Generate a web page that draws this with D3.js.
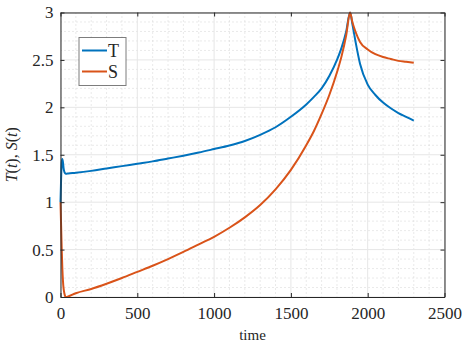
<!DOCTYPE html>
<html>
<head>
<meta charset="utf-8">
<script src="https://cdn.jsdelivr.net/npm/d3@7"></script>
<style>
  body { margin: 0; background: #fff; }
  text { font-family: "Liberation Serif", "DejaVu Serif", serif; fill: #262626; }
</style>
</head>
<body>
<div id="chart"></div>
<script>
// values
var time = [0, 4, 8, 12, 16, 20, 25, 30, 35, 40, 50, 100, 200, 300, 400, 500, 600, 700, 800, 900,
            1000, 1100, 1200, 1300, 1400, 1500, 1600, 1650, 1700, 1750, 1800, 1830, 1860, 1885,
            1900, 1920, 1950, 2000, 2050, 2100, 2150, 2200, 2250, 2300];
var seriesT = [1.0, 1.25, 1.42, 1.455, 1.42, 1.36, 1.32, 1.305, 1.30, 1.30, 1.302, 1.31, 1.33, 1.355, 1.38, 1.405, 1.43, 1.46, 1.49, 1.523,
               1.56, 1.598, 1.645, 1.71, 1.79, 1.9, 2.03, 2.11, 2.2, 2.33, 2.5, 2.63, 2.8, 3.0,
               2.88, 2.7, 2.46, 2.24, 2.13, 2.05, 1.99, 1.94, 1.9, 1.86];
var seriesS = [1.0, 0.75, 0.5, 0.3, 0.17, 0.09, 0.04, 0.01, 0.0, 0.0, 0.005, 0.04, 0.085, 0.14, 0.2, 0.265, 0.33, 0.40, 0.475, 0.555,
               0.635, 0.73, 0.84, 0.97, 1.135, 1.34, 1.6, 1.75, 1.93, 2.13, 2.37, 2.54, 2.76, 3.0,
               2.9, 2.8, 2.69, 2.61, 2.56, 2.53, 2.51, 2.49, 2.48, 2.47];
var seriesNames = ["T", "S"];
var xTicks = [0, 500, 1000, 1500, 2000, 2500];
var yTicks = [0, 0.5, 1, 1.5, 2, 2.5, 3];

var margin = {top: 12.5, right: 23.5, bottom: 51, left: 60.5},
    width = 468 - margin.left - margin.right,
    height = 348 - margin.top - margin.bottom;

var x = d3.scaleLinear().domain([0, 2500]).range([0, width]);
var y = d3.scaleLinear().domain([0, 3]).range([height, 0]);
var color = ["#0072BD", "#D95319"];

var svg = d3.select("#chart").append("svg")
    .attr("width", 468)
    .attr("height", 348)
    .append("g")
    .attr("transform", "translate(" + margin.left + "," + margin.top + ")");

// minor grid (dotted)
var xMinor = d3.range(0, 2501, 100).filter(function(d) { return d % 500 !== 0; });
var yMinor = d3.range(0, 31, 1).map(function(d) { return d / 10; }).filter(function(d) { return Math.round(d * 10) % 5 !== 0; });

svg.append("g").selectAll("line").data(xMinor).enter().append("line")
    .attr("x1", function(d) { return x(d); }).attr("x2", function(d) { return x(d); })
    .attr("y1", 0).attr("y2", height)
    .attr("stroke", "#d4d4d4").attr("stroke-width", 1).attr("stroke-dasharray", "1,3");
svg.append("g").selectAll("line").data(yMinor).enter().append("line")
    .attr("y1", function(d) { return y(d); }).attr("y2", function(d) { return y(d); })
    .attr("x1", 0).attr("x2", width)
    .attr("stroke", "#d4d4d4").attr("stroke-width", 1).attr("stroke-dasharray", "1,3");

// major grid
svg.append("g").selectAll("line").data(xTicks).enter().append("line")
    .attr("x1", function(d) { return x(d); }).attr("x2", function(d) { return x(d); })
    .attr("y1", 0).attr("y2", height)
    .attr("stroke", "#e6e6e6").attr("stroke-width", 1);
svg.append("g").selectAll("line").data(yTicks).enter().append("line")
    .attr("y1", function(d) { return y(d); }).attr("y2", function(d) { return y(d); })
    .attr("x1", 0).attr("x2", width)
    .attr("stroke", "#e6e6e6").attr("stroke-width", 1);

// lines
var data = seriesNames.map(function(name, k) {
    var vals = k === 0 ? seriesT : seriesS;
    return time.map(function(t, i) { return {t: t, v: vals[i]}; });
});

var line = d3.line()
    .curve(d3.curveMonotoneX)
    .x(function(d) { return x(d.t); })
    .y(function(d) { return y(d.v); });

svg.selectAll(".series").data(data).enter().append("path")
    .attr("class", "series")
    .attr("d", line)
    .attr("fill", "none")
    .attr("stroke", function(d, i) { return color[i]; })
    .attr("stroke-width", 2)
    .attr("stroke-linejoin", "round");

// axes (ticks inside, MATLAB box style)
var fmt = function(d) { return String(d); };
svg.append("g")
    .attr("transform", "translate(0," + height + ")")
    .call(d3.axisBottom(x).tickValues(xTicks).tickSizeInner(-4).tickSizeOuter(0).tickPadding(10).tickFormat(fmt));
svg.append("g")
    .call(d3.axisLeft(y).tickValues(yTicks).tickSizeInner(-4).tickSizeOuter(0).tickPadding(7).tickFormat(fmt));
svg.append("g")
    .call(d3.axisTop(x).tickValues(xTicks).tickSizeInner(-4).tickSizeOuter(0).tickFormat(""));
svg.append("g")
    .attr("transform", "translate(" + width + ",0)")
    .call(d3.axisRight(y).tickValues(yTicks).tickSizeInner(-4).tickSizeOuter(0).tickFormat(""));

svg.selectAll(".domain").attr("stroke", "#262626").attr("stroke-width", 1);
svg.selectAll(".tick line").attr("stroke", "#262626");
svg.selectAll(".tick text")
    .attr("font-family", null)
    .style("font-family", "'Liberation Serif', 'DejaVu Serif', serif")
    .style("font-size", "17px")
    .attr("fill", "#262626");

// axis labels
svg.append("text")
    .attr("x", width / 2)
    .attr("y", height + 43)
    .attr("text-anchor", "middle")
    .style("font-size", "15px")
    .text("time");

var ylab = svg.append("text")
    .attr("transform", "rotate(-90)")
    .attr("x", -height / 2)
    .attr("y", -44)
    .attr("text-anchor", "middle")
    .style("font-size", "16px");
[["T", true], ["(", false], ["t", true], "), ", ["S", true], ["(", false], ["t", true], [")", false]]
    .map(function(p) { return typeof p === "string" ? [p, false] : p; })
    .forEach(function(p) {
        ylab.append("tspan")
            .style("font-style", p[1] ? "italic" : "normal")
            .text(p[0]);
    });

// legend
var legend = svg.append("g").attr("transform", "translate(18.5,25)");
legend.append("rect")
    .attr("width", 47).attr("height", 48)
    .attr("fill", "#fff")
    .attr("stroke", "#262626").attr("stroke-opacity", 0.6).attr("stroke-width", 1);
seriesNames.forEach(function(name, i) {
    legend.append("line")
        .attr("x1", 3).attr("x2", 28)
        .attr("y1", 13 + i * 21).attr("y2", 13 + i * 21)
        .attr("stroke", color[i]).attr("stroke-width", 2);
    legend.append("text")
        .attr("x", 29).attr("y", 19 + i * 21)
        .style("font-size", "18px")
        .text(name);
});
</script>
</body>
</html>
